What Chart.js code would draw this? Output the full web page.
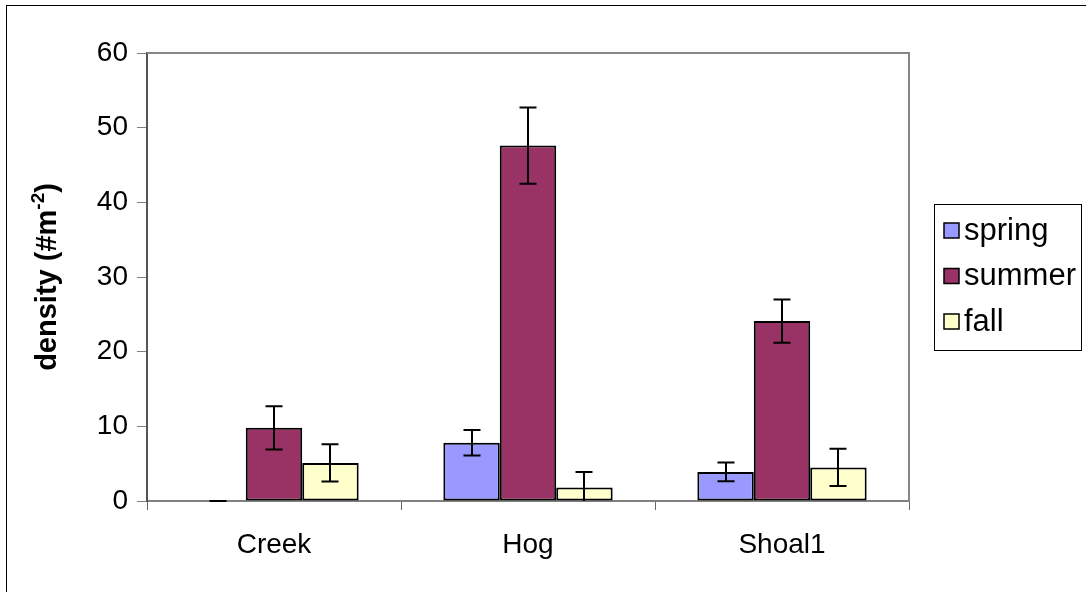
<!DOCTYPE html>
<html>
<head>
<meta charset="utf-8">
<title>density by site</title>
<script src="https://cdn.jsdelivr.net/npm/chart.js@4.4.1/dist/chart.umd.min.js"></script>
<style>
    html, body { margin: 0; padding: 0; background: #fff; }
    #wrap { width: 1086px; height: 592px; }
</style>
</head>
<body>
<div id="wrap"><canvas id="densityChart" width="1086" height="592"></canvas></div>
<script>
const sites = ["Creek", "Hog", "Shoal1"];
const seasons = ["spring", "summer", "fall"];
const seasonColors = ["#9999ff", "#993366", "#ffffcc"];

const springMean = [0, 7.8, 3.9];
const summerMean = [9.8, 47.6, 24.1];
const fallMean = [5.1, 1.8, 4.5];

const springErr = [0, 1.7, 1.25];
const summerErr = [2.9, 5.1, 2.9];
const fallErr = [2.5, 2.1, 2.5];

const yTicks = [0, 10, 20, 30, 40, 50, 60];

const FONT = "'Liberation Sans', Arial, sans-serif";

const means = [springMean, summerMean, fallMean];
const errs = [springErr, summerErr, fallErr];

// outer frame and the grey plot-area border (top + right)
const framePlugin = {
    id: "frame",
    beforeDraw(chart) {
        const ctx = chart.ctx;
        ctx.save();
        ctx.fillStyle = "#fff";
        ctx.fillRect(0, 0, chart.width, chart.height);
        ctx.strokeStyle = "#000";
        ctx.lineWidth = 1;
        ctx.strokeRect(6.5, 5.5, chart.width + 10, chart.height + 10);
        ctx.restore();
    },
    afterDatasetsDraw(chart) {
        const { ctx, chartArea: a } = chart;
        ctx.save();
        ctx.strokeStyle = "#868686";
        ctx.lineWidth = 2;
        ctx.beginPath();
        ctx.moveTo(a.left, a.top);
        ctx.lineTo(a.right, a.top);
        ctx.lineTo(a.right, a.bottom);
        ctx.stroke();
        ctx.restore();
    }
};

// standard-error whiskers on every bar
const errorBarPlugin = {
    id: "errorBars",
    afterDatasetsDraw(chart) {
        const ctx = chart.ctx;
        const y = chart.scales.y;
        ctx.save();
        ctx.strokeStyle = "#000";
        ctx.lineWidth = 2;
        chart.data.datasets.forEach((ds, di) => {
            const meta = chart.getDatasetMeta(di);
            meta.data.forEach((bar, i) => {
                const v = ds.data[i];
                const e = errs[di][i];
                const x = Math.round(bar.x);
                const top = y.getPixelForValue(v + e);
                const bot = Math.min(y.getPixelForValue(v - e), y.bottom);
                const cap = 8.5;
                ctx.beginPath();
                ctx.moveTo(x, top);
                ctx.lineTo(x, bot);
                ctx.moveTo(x - cap, top);
                ctx.lineTo(x + cap, top);
                if (v - e >= 0) {
                    ctx.moveTo(x - cap, bot);
                    ctx.lineTo(x + cap, bot);
                }
                ctx.stroke();
            });
        });
        ctx.restore();
    }
};

// rotated y title with a superscript exponent
const yTitlePlugin = {
    id: "yTitle",
    afterDraw(chart) {
        const ctx = chart.ctx;
        const main = "density (#m";
        const sup = "-2";
        const close = ")";
        ctx.save();
        ctx.translate(48, (chart.chartArea.top + chart.chartArea.bottom) / 2);
        ctx.rotate(-Math.PI / 2);
        ctx.fillStyle = "#000";
        ctx.textBaseline = "middle";
        ctx.font = "bold 29px " + FONT;
        const w1 = ctx.measureText(main).width;
        const w3 = ctx.measureText(close).width;
        ctx.font = "bold 19px " + FONT;
        const w2 = ctx.measureText(sup).width;
        let x = -(w1 + w2 + w3) / 2;
        ctx.font = "bold 29px " + FONT;
        ctx.fillText(main, x, 0);
        x += w1;
        ctx.font = "bold 19px " + FONT;
        ctx.fillText(sup, x, -9);
        x += w2;
        ctx.font = "bold 29px " + FONT;
        ctx.fillText(close, x, 0);
        ctx.restore();
    }
};

// boxed legend at the right
const legendBoxPlugin = {
    id: "legendBox",
    afterDraw(chart) {
        const ctx = chart.ctx;
        const left = 934, top = 204, right = 1081, bottom = 350;
        ctx.save();
        ctx.strokeStyle = "#000";
        ctx.lineWidth = 1;
        ctx.strokeRect(left + 0.5, top + 0.5, right - left, bottom - top);
        ctx.font = "31px " + FONT;
        ctx.textBaseline = "middle";
        chart.data.datasets.forEach((ds, i) => {
            const cy = 230 + i * 45.5;
            ctx.fillStyle = ds.backgroundColor;
            ctx.fillRect(944, cy - 7, 15, 15);
            ctx.lineWidth = 1.5;
            ctx.strokeRect(944, cy - 7, 15, 15);
            ctx.fillStyle = "#000";
            ctx.fillText(ds.label, 964, cy + 1);
        });
        ctx.restore();
    }
};

const datasets = seasons.map((name, i) => ({
    label: name,
    data: means[i],
    backgroundColor: seasonColors[i],
    borderColor: "#000",
    borderWidth: 2,
    borderSkipped: false,
    barPercentage: 1,
    categoryPercentage: 2 / 3
}));

new Chart(document.getElementById("densityChart"), {
    type: "bar",
    data: { labels: sites, datasets },
    plugins: [framePlugin, errorBarPlugin, yTitlePlugin, legendBoxPlugin],
    options: {
        responsive: false,
        animation: false,
        devicePixelRatio: 1,
        layout: { padding: { left: 0, right: 177, top: 53, bottom: 0 } },
        plugins: {
            legend: { display: false },
            tooltip: { enabled: false }
        },
        scales: {
            x: {
                offset: true,
                grid: {
                    offset: true,
                    drawOnChartArea: false,
                    tickLength: 9,
                    color: "#666",
                    lineWidth: 1
                },
                border: { color: "#808080", width: 2 },
                ticks: {
                    color: "#000",
                    font: { family: FONT, size: 28 },
                    padding: 18,
                    maxRotation: 0
                },
                afterFit(scale) { scale.height = 91; }
            },
            y: {
                min: 0,
                max: 60,
                afterBuildTicks(scale) { scale.ticks = yTicks.map(v => ({ value: v })); },
                grid: {
                    drawOnChartArea: false,
                    tickLength: 10,
                    color: "#808080",
                    lineWidth: 1
                },
                border: { color: "#555", width: 2 },
                ticks: {
                    color: "#000",
                    font: { family: FONT, size: 28 },
                    padding: 9
                },
                afterFit(scale) { scale.width = 147; }
            }
        }
    }
});
</script>
</body>
</html>
